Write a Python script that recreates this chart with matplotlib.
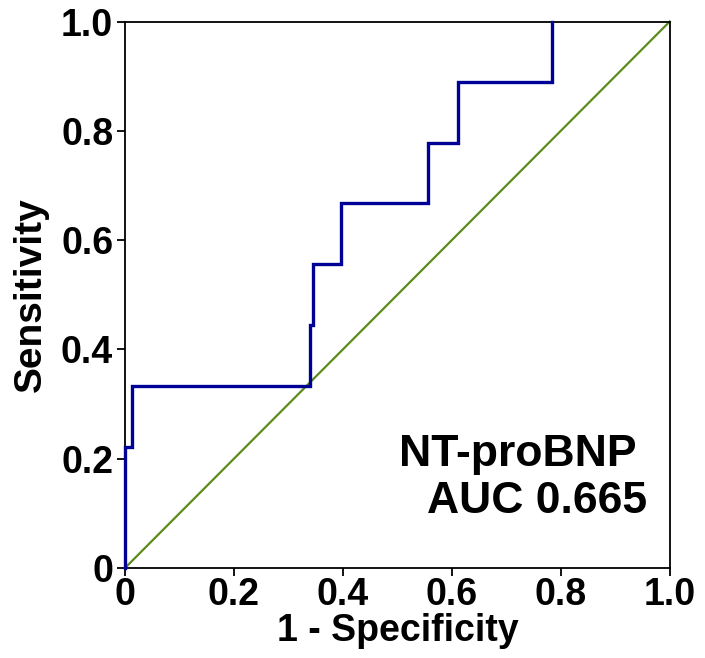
import matplotlib
matplotlib.use("Agg")
import matplotlib.pyplot as plt

# ROC step points (1 - specificity, sensitivity)
fpr = [0.0, 0.0, 0.0125, 0.0125, 0.339, 0.339, 0.345, 0.345, 0.397, 0.397,
       0.557, 0.557, 0.612, 0.612, 0.783, 0.783]
tpr = [0.0, 0.222, 0.222, 0.333, 0.333, 0.444, 0.444, 0.556, 0.556, 0.667,
       0.667, 0.778, 0.778, 0.889, 0.889, 1.0]
ref_x = [0.0, 1.0]
ref_y = [0.0, 1.0]
ticks = [0.0, 0.2, 0.4, 0.6, 0.8, 1.0]
tick_labels = ["0", "0.2", "0.4", "0.6", "0.8", "1.0"]
marker_name = "NT-proBNP"
auc_text = "AUC 0.665"

plt.rcParams['font.family'] = ['Liberation Sans', 'DejaVu Sans']
plt.rcParams['font.weight'] = 'bold'

fig = plt.figure(figsize=(7.05, 6.58), dpi=100)
ax = fig.add_axes([0.1773, 0.1368, 0.7727, 0.8305])

ax.plot(ref_x, ref_y, color='#5b8c1c', lw=1.6, zorder=2, clip_on=False)
ax.plot(fpr, tpr, color='#000096', lw=2.4, zorder=3, clip_on=False,
        solid_joinstyle='miter')

ax.set_xlim(0, 1)
ax.set_ylim(0, 1)
ax.set_xticks(ticks)
ax.set_xticklabels(tick_labels)
ax.set_yticks(ticks)
ax.set_yticklabels(tick_labels)
ax.tick_params(axis='both', direction='out', length=5.5, width=1.3,
               labelsize=27, color='black', pad=3)
ax.tick_params(axis='x', pad=1)
for lab in ax.get_xticklabels() + ax.get_yticklabels():
    lab.set_fontweight('bold')
for sp in ax.spines.values():
    sp.set_linewidth(1.3)
    sp.set_color('black')

ax.set_xlabel("1 - Specificity", fontsize=27, fontweight='bold', labelpad=0)
ax.set_ylabel("Sensitivity", fontsize=28, fontweight='bold', labelpad=9)

ax.text(0.939, 0.1866, marker_name, transform=ax.transAxes, ha='right',
        va='baseline', fontsize=32, fontweight='bold')
ax.text(0.958, 0.1006, auc_text, transform=ax.transAxes, ha='right',
        va='baseline', fontsize=32, fontweight='bold')

fig.savefig("out.png", dpi=100)
